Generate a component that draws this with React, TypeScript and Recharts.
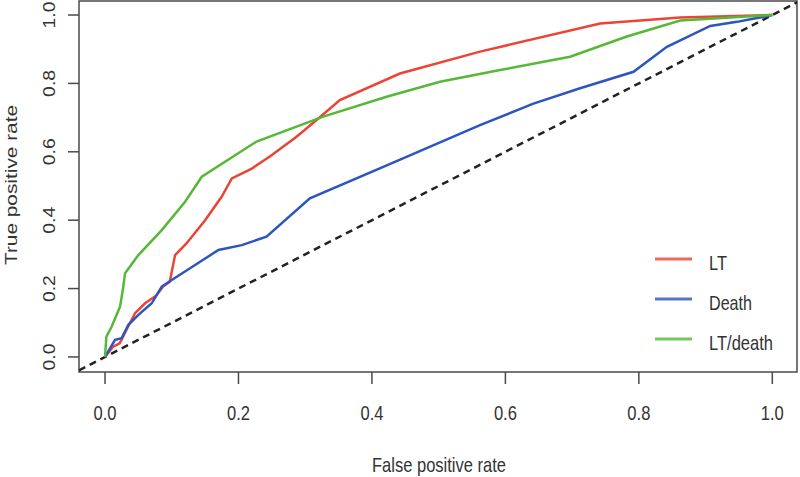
import {
  LineChart,
  Line,
  XAxis,
  YAxis,
  ReferenceArea,
  ReferenceLine,
  Legend,
} from "recharts";

const TICKS = [0, 0.2, 0.4, 0.6, 0.8, 1.0];
const X_DOMAIN: [number, number] = [-0.039, 1.037];
const Y_DOMAIN: [number, number] = [-0.044, 1.041];

const ltFpr = [0, 0.012, 0.022, 0.032, 0.045, 0.06, 0.077, 0.087, 0.097, 0.105, 0.122, 0.15, 0.175, 0.19, 0.22, 0.247, 0.287, 0.317, 0.352, 0.442, 0.562, 0.742, 0.862, 1.0];
const ltTpr = [0, 0.03, 0.04, 0.079, 0.128, 0.157, 0.18, 0.206, 0.22, 0.298, 0.332, 0.4, 0.469, 0.522, 0.551, 0.586, 0.644, 0.693, 0.751, 0.829, 0.893, 0.975, 0.993, 1.0];

const deathFpr = [0, 0.015, 0.025, 0.035, 0.05, 0.07, 0.085, 0.1, 0.135, 0.17, 0.205, 0.242, 0.307, 0.417, 0.562, 0.642, 0.712, 0.792, 0.842, 0.907, 0.947, 1.0];
const deathTpr = [0, 0.05, 0.055, 0.094, 0.123, 0.157, 0.206, 0.225, 0.269, 0.313, 0.327, 0.352, 0.464, 0.556, 0.678, 0.741, 0.786, 0.834, 0.907, 0.968, 0.98, 1.0];

const ltDeathFpr = [0, 0.002, 0.01, 0.0225, 0.027, 0.03, 0.05, 0.085, 0.12, 0.145, 0.227, 0.327, 0.422, 0.502, 0.592, 0.697, 0.782, 0.862, 0.912, 1.0];
const ltDeathTpr = [0, 0.059, 0.089, 0.147, 0.2, 0.245, 0.298, 0.371, 0.454, 0.527, 0.63, 0.703, 0.761, 0.805, 0.839, 0.878, 0.937, 0.984, 0.99, 1.0];

const diagonal = [X_DOMAIN[0], X_DOMAIN[1]];

const SERIES = [
  { name: "LT", color: "#ec4434", fpr: ltFpr, tpr: ltTpr },
  { name: "Death", color: "#2c55bf", fpr: deathFpr, tpr: deathTpr },
  { name: "LT/death", color: "#55b836", fpr: ltDeathFpr, tpr: ltDeathTpr },
];

const FONT = "'Liberation Sans', Arial, sans-serif";
const TEXT = "#333";
const AXIS = "#4a4a4a";

const toPoints = (fpr: number[], tpr: number[]) =>
  fpr.map((x, i) => ({ fpr: x, tpr: tpr[i] }));

function XTick({ x, payload }: any) {
  return (
    <text
      x={x}
      y={420}
      textAnchor="middle"
      fontSize={20}
      fontFamily={FONT}
      fill={TEXT}
      textLength={23}
      lengthAdjust="spacingAndGlyphs"
    >
      {Number(payload.value).toFixed(1)}
    </text>
  );
}

function YTick({ y, payload }: any) {
  return (
    <text
      x={55}
      y={y}
      transform={`rotate(-90 55 ${y})`}
      textAnchor="middle"
      fontSize={17}
      fontFamily={FONT}
      fill={TEXT}
      textLength={27}
      lengthAdjust="spacingAndGlyphs"
    >
      {Number(payload.value).toFixed(1)}
    </text>
  );
}

const legendWidths = [18, 43, 64];

function RocLegend() {
  return (
    <svg width={150} height={120}>
      {SERIES.map((s, i) => {
        const y = 19 + i * 40;
        return (
          <g key={s.name}>
            <line x1={15} x2={52} y1={y} y2={y} stroke={s.color} strokeWidth={3} opacity={0.8} />
            <text
              x={69}
              y={y + 11}
              fontSize={21}
              fontFamily={FONT}
              fill={TEXT}
              textLength={legendWidths[i]}
              lengthAdjust="spacingAndGlyphs"
            >
              {s.name}
            </text>
          </g>
        );
      })}
    </svg>
  );
}

export default function App() {
  return (
    <div style={{ position: "absolute", left: 0, top: 0, background: "#fff" }}>
      <LineChart
        width={800}
        height={477}
        margin={{ top: 1, right: 3, left: 0, bottom: 0 }}
      >
        <XAxis
          type="number"
          dataKey="fpr"
          domain={X_DOMAIN}
          ticks={TICKS}
          allowDataOverflow
          height={105}
          axisLine={false}
          tickSize={12}
          tickLine={{ stroke: AXIS, strokeWidth: 1.5 }}
          tick={<XTick />}
          label={{
            content: () => (
              <text
                x={439}
                y={472}
                textAnchor="middle"
                fontSize={21}
                fontFamily={FONT}
                fill={TEXT}
                textLength={134}
                lengthAdjust="spacingAndGlyphs"
              >
                False positive rate
              </text>
            ),
          }}
        />
        <YAxis
          type="number"
          dataKey="tpr"
          domain={Y_DOMAIN}
          ticks={TICKS}
          allowDataOverflow
          width={79}
          axisLine={false}
          tickSize={11}
          tickLine={{ stroke: AXIS, strokeWidth: 1.5 }}
          tick={<YTick />}
          label={{
            content: () => (
              <text
                x={17}
                y={185}
                transform="rotate(-90 17 185)"
                textAnchor="middle"
                fontSize={16}
                fontFamily={FONT}
                fill={TEXT}
                textLength={160}
                lengthAdjust="spacingAndGlyphs"
              >
                True positive rate
              </text>
            ),
          }}
        />
        <ReferenceArea
          x1={X_DOMAIN[0]}
          x2={X_DOMAIN[1]}
          y1={Y_DOMAIN[0]}
          y2={Y_DOMAIN[1]}
          fill="none"
          stroke={AXIS}
          strokeWidth={1.5}
          ifOverflow="visible"
        />
        <ReferenceLine
          segment={[
            { x: diagonal[0], y: diagonal[0] },
            { x: diagonal[1], y: diagonal[1] },
          ]}
          stroke="#222"
          strokeWidth={2.5}
          strokeDasharray="7 5"
          ifOverflow="hidden"
        />
        {SERIES.map((s) => (
          <Line
            key={s.name}
            name={s.name}
            data={toPoints(s.fpr, s.tpr)}
            dataKey="tpr"
            type="linear"
            stroke={s.color}
            strokeWidth={2.5}
            dot={false}
            isAnimationActive={false}
          />
        ))}
        <Legend
          layout="vertical"
          align="center"
          verticalAlign="middle"
          content={<RocLegend />}
          wrapperStyle={{ position: "absolute", left: 640, top: 240, width: 150, height: 120 }}
        />
      </LineChart>
    </div>
  );
}
